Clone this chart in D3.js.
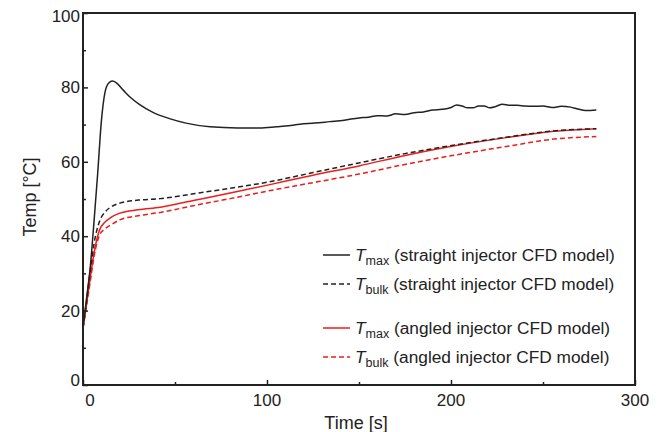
<!DOCTYPE html>
<html>
<head>
<meta charset="utf-8">
<script src="https://cdn.jsdelivr.net/npm/d3@7"></script>
<style>
  body { margin: 0; background: #fff; }
  text { font-family: Arial, "Liberation Sans", sans-serif; fill: #222; }
</style>
</head>
<body>
<div id="chart"></div>
<script>
// T_max, straight injector (black solid)
const tmaxStraight = [
  [0, 15.3], [2, 23.5], [4, 32], [6, 44], [8, 57], [10, 71], [12, 78.8], [14, 81.2], [16, 81.7],
  [18, 81.3], [22, 79.2], [26, 77.2], [31, 75.3], [38, 73.3], [47, 71.6], [56, 70.4], [69, 69.4],
  [84, 69.1], [96, 69.1], [105, 69.4], [110, 69.6], [118, 70.1], [126, 70.4], [134, 70.8], [142, 71.2],
  [150, 71.8], [155, 72.0], [160, 72.4], [165, 72.3], [170, 72.9], [175, 72.7], [180, 73.2], [185, 73.4],
  [190, 73.9], [195, 74.1], [200, 74.6], [203, 75.3], [206, 75.0], [209, 74.5], [212, 74.5], [215, 75.0],
  [218, 75.0], [221, 74.5], [224, 74.8], [228, 75.5], [232, 75.2], [236, 75.2], [240, 75.0], [245, 74.9],
  [250, 75.0], [255, 74.6], [260, 74.9], [265, 74.7], [269, 74.2], [273, 73.8], [276, 73.8], [279, 73.9]
];
// T_bulk, straight injector (black dashed)
const tbulkStraight = [
  [0, 15.3], [2, 23], [4, 31], [6, 38], [9, 44], [12, 46.5], [15, 47.8], [20, 48.9], [30, 49.7],
  [42, 50.1], [60, 51.4], [80, 52.9], [101, 54.6], [125, 57.1], [150, 59.7], [175, 62.2], [202, 64.5],
  [230, 66.6], [256, 68.3], [279, 68.9]
];
// T_max, angled injector (red solid)
const tmaxAngled = [
  [0, 15.3], [2, 22], [4, 29], [6, 35.5], [9, 41.7], [12, 43.8], [15, 45], [20, 46.2], [30, 47.1],
  [42, 47.8], [60, 49.6], [80, 51.6], [101, 53.8], [125, 56.4], [150, 58.9], [175, 61.7], [202, 64.3],
  [230, 66.5], [256, 68.2], [279, 68.9]
];
// T_bulk, angled injector (red dashed)
const tbulkAngled = [
  [0, 15.3], [2, 21.5], [4, 28], [6, 34.5], [9, 40.3], [12, 42], [15, 43], [20, 44.4], [30, 45.5],
  [42, 46.4], [60, 48.2], [80, 50.1], [101, 52.2], [125, 54.4], [150, 56.7], [175, 59.3], [202, 61.8],
  [230, 64.1], [256, 66.1], [279, 66.8]
];

const xTicks = [0, 100, 200, 300];
const xMinorTicks = [50, 150, 250];
const yTicks = [0, 20, 40, 60, 80, 100];
const yMinorTicks = [10, 30, 50, 70, 90];

const series = [
  { name: "max", label: " (straight injector CFD model)", data: tmaxStraight, color: "#222", dash: null },
  { name: "bulk", label: " (straight injector CFD model)", data: tbulkStraight, color: "#222", dash: "5,3" },
  { name: "max", label: " (angled injector CFD model)", data: tmaxAngled, color: "#ee1c1c", dash: null },
  { name: "bulk", label: " (angled injector CFD model)", data: tbulkAngled, color: "#ee1c1c", dash: "5,3" }
];

const width = 662, height = 432;
const margin = { top: 13, right: 27, bottom: 47, left: 83 };

const svg = d3.select("#chart").append("svg")
  .attr("width", width)
  .attr("height", height);

const x = d3.scaleLinear().domain([0, 300]).range([margin.left, width - margin.right]);
const y = d3.scaleLinear().domain([0, 100]).range([height - margin.bottom, margin.top]);

// curves
const line = d3.line().x(d => x(d[0])).y(d => y(d[1])).curve(d3.curveMonotoneX);
series.slice().reverse().forEach(s => {
  svg.append("path")
    .datum(s.data)
    .attr("fill", "none")
    .attr("stroke", s.color)
    .attr("stroke-width", 1.5)
    .attr("stroke-dasharray", s.dash)
    .attr("d", line);
});

// axes: ticks point inward
svg.append("g")
  .attr("transform", "translate(0," + y(0) + ")")
  .call(d3.axisTop(x).tickValues(xTicks).tickSize(5).tickFormat(""));
svg.append("g")
  .attr("transform", "translate(0," + y(0) + ")")
  .call(d3.axisTop(x).tickValues(xMinorTicks).tickSize(3).tickFormat(""));
svg.append("g")
  .attr("transform", "translate(" + x(0) + ",0)")
  .call(d3.axisRight(y).tickValues(yTicks).tickSize(5).tickFormat(""));
svg.append("g")
  .attr("transform", "translate(" + x(0) + ",0)")
  .call(d3.axisRight(y).tickValues(yMinorTicks).tickSize(3).tickFormat(""));
svg.selectAll(".domain").remove();
svg.selectAll(".tick line").attr("stroke", "#222").attr("stroke-width", 1.5);

// frame
svg.append("rect")
  .attr("x", x(0)).attr("y", y(100))
  .attr("width", x(300) - x(0)).attr("height", y(0) - y(100))
  .attr("fill", "none").attr("stroke", "#222").attr("stroke-width", 2);

// tick labels
svg.append("g").selectAll("text")
  .data(xTicks).enter().append("text")
  .attr("x", d => x(d) + (d === 0 ? 7 : 0))
  .attr("y", y(0) + 21)
  .attr("text-anchor", "middle")
  .style("font-size", "17px")
  .text(d => d);
svg.append("g").selectAll("text")
  .data(yTicks).enter().append("text")
  .attr("x", x(0) - 3)
  .attr("y", d => y(d) + (d === 0 ? -5 : d === 100 ? 3 : 0))
  .attr("dy", "0.35em")
  .attr("text-anchor", "end")
  .style("font-size", "17px")
  .text(d => d);

// axis titles
svg.append("text")
  .attr("x", (x(0) + x(300)) / 2 - 3)
  .attr("y", 429)
  .attr("text-anchor", "middle")
  .style("font-size", "18px")
  .text("Time [s]");
svg.append("text")
  .attr("transform", "translate(36,197) rotate(-90)")
  .attr("text-anchor", "middle")
  .style("font-size", "18px")
  .text("Temp [°C]");

// legend
const legendY = [255, 284, 328, 357];
const legend = svg.append("g");
series.forEach((s, i) => {
  const g = legend.append("g").attr("transform", "translate(323," + legendY[i] + ")");
  g.append("line")
    .attr("x1", 0).attr("x2", 27).attr("y1", 0).attr("y2", 0)
    .attr("stroke", s.color).attr("stroke-width", 1.5)
    .attr("stroke-dasharray", s.dash);
  const t = g.append("text").attr("x", 32).attr("y", 6).style("font-size", "17.3px");
  t.append("tspan").style("font-style", "italic").text("T");
  t.append("tspan").attr("dy", 4).style("font-size", "12.5px").text(s.name);
  t.append("tspan").attr("dy", -4).text(s.label);
});
</script>
</body>
</html>
